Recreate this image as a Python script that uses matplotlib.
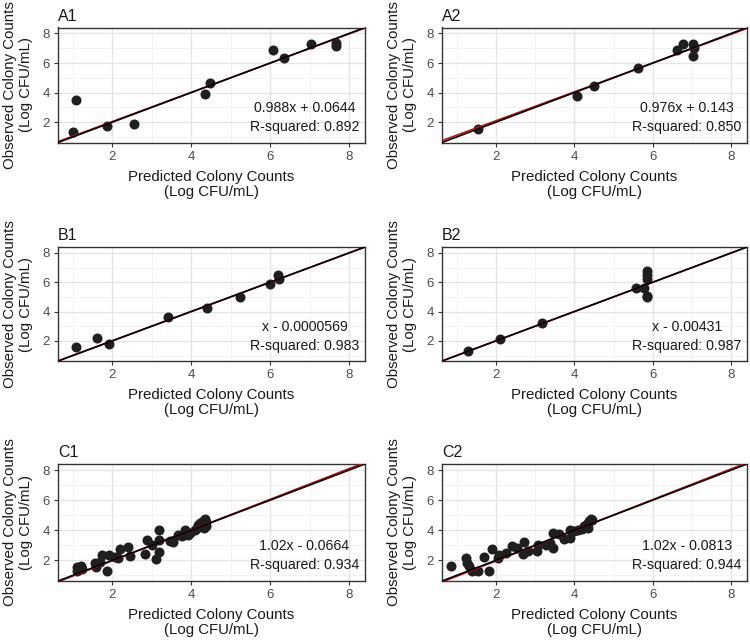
import matplotlib
matplotlib.use("Agg")
import matplotlib.pyplot as plt
import numpy as np
from matplotlib.ticker import MultipleLocator

plt.rcParams['font.family'] = ['Liberation Sans', 'DejaVu Sans']

# ---- data ----
A1_x = [1.00, 1.08, 1.87, 2.56, 4.34, 4.47, 6.08, 6.35, 7.03, 7.66, 7.66]
A1_y = [1.33, 3.52, 1.73, 1.89, 3.88, 4.68, 6.88, 6.34, 7.26, 7.32, 7.17]

A2_x = [1.54, 4.07, 4.49, 5.63, 6.61, 6.76, 7.03, 7.05, 7.02]
A2_y = [1.55, 3.79, 4.46, 5.65, 6.88, 7.28, 7.26, 6.99, 6.47]

B1_x = [1.08, 1.62, 1.91, 3.41, 4.41, 5.23, 5.99, 6.20, 6.22]
B1_y = [1.60, 2.18, 1.82, 3.61, 4.24, 5.02, 5.85, 6.47, 6.25]

B2_x = [1.28, 2.12, 3.18, 5.56, 5.77, 5.86, 5.86, 5.86, 5.84, 5.86]
B2_y = [1.31, 2.11, 3.21, 5.63, 5.63, 6.75, 6.48, 6.25, 5.04, 4.98]

C1_x = [1.10, 1.22, 1.11, 1.25, 1.56, 1.60, 1.69, 1.75, 1.87, 1.92, 2.07, 2.15,
        2.21, 2.41, 2.46, 2.83, 2.89, 3.00, 3.12, 3.19, 3.19, 3.19, 3.46, 3.55,
        3.67, 3.78, 3.85, 3.93, 3.97, 4.10, 4.14, 4.18, 4.22, 4.26, 4.31, 4.35,
        4.37, 4.32, 4.37]
C1_y = [1.58, 1.63, 1.30, 1.45, 1.80, 1.58, 1.89, 2.33, 1.30, 2.33, 2.24, 2.18,
        2.77, 2.90, 2.29, 2.40, 3.34, 2.99, 2.11, 4.00, 3.38, 2.55, 3.27, 3.21,
        3.71, 3.65, 4.04, 3.71, 3.82, 4.04, 4.15, 4.37, 4.48, 4.26, 4.59, 4.75,
        4.53, 4.15, 4.26]

C2_x = [0.87, 1.24, 1.27, 1.31, 1.39, 1.55, 1.71, 1.83, 1.90, 2.05, 2.08, 2.25,
        2.42, 2.53, 2.72, 2.70, 2.82, 3.06, 3.08, 3.29, 3.37, 3.46, 3.46, 3.62,
        3.73, 3.90, 3.90, 4.00, 4.09, 4.19, 4.26, 4.30, 4.34, 4.38, 4.42, 4.44,
        4.34]
C2_y = [1.63, 2.18, 1.85, 1.63, 1.30, 1.30, 2.24, 1.30, 2.73, 2.18, 2.33, 2.51,
        2.95, 2.84, 3.21, 2.40, 2.62, 2.62, 2.99, 3.05, 3.16, 2.84, 3.82, 3.78,
        3.43, 3.49, 4.04, 3.93, 4.04, 4.09, 4.26, 4.37, 4.48, 4.59, 4.75, 4.66,
        4.15]

panels = ["A1", "A2", "B1", "B2", "C1", "C2"]
xs = [A1_x, A2_x, B1_x, B2_x, C1_x, C2_x]
ys = [A1_y, A2_y, B1_y, B2_y, C1_y, C2_y]
slopes = [0.988, 0.976, 1.0, 1.0, 1.02, 1.02]
intercepts = [0.0644, 0.143, -0.0000569, -0.00431, -0.0664, -0.0813]
eq_labels = ["0.988x + 0.0644", "0.976x + 0.143", "x - 0.0000569",
             "x - 0.00431", "1.02x - 0.0664", "1.02x - 0.0813"]
r2_labels = ["R-squared: 0.892", "R-squared: 0.850", "R-squared: 0.983",
             "R-squared: 0.987", "R-squared: 0.934", "R-squared: 0.944"]

W, H = 750, 642
fig = plt.figure(figsize=(W / 100, H / 100), dpi=100)

col_lr = [(58, 365), (442, 747)]
row_tb = [(27.5, 142.5), (247, 361), (464, 581)]

lim = (0.63, 8.4)
for i, name in enumerate(panels):
    r, c = divmod(i, 2)
    l, rr = col_lr[c]
    t, b = row_tb[r]
    ax = fig.add_axes([l / W, 1 - b / H, (rr - l) / W, (b - t) / H])
    ax.set_xlim(*lim)
    ax.set_ylim(*lim)
    ax.xaxis.set_major_locator(MultipleLocator(2))
    ax.yaxis.set_major_locator(MultipleLocator(2))
    ax.xaxis.set_minor_locator(MultipleLocator(1))
    ax.yaxis.set_minor_locator(MultipleLocator(1))
    ax.grid(which='major', color='#E5E5E5', linewidth=1.0, zorder=0)
    ax.grid(which='minor', color='#F0F0F0', linewidth=0.6, zorder=0)
    ax.set_axisbelow(True)
    for s in ax.spines.values():
        s.set_color('#333333')
        s.set_linewidth(1.0)
    ax.tick_params(which='major', length=3, width=0.8, color='#333333',
                   labelsize=9.5, labelcolor='#4D4D4D', pad=3)
    ax.tick_params(which='minor', length=0)

    ax.scatter(xs[i], ys[i], s=52, color='#1F1F1F', zorder=2, linewidths=0)
    xx = np.array(lim)
    ax.plot(xx, slopes[i] * xx + intercepts[i], color='#CC1111', linewidth=1.2, zorder=3)
    ax.plot(xx, xx, color='black', linewidth=1.2, zorder=4)

    ax.text(6.87, 2.33, eq_labels[i] + "\n" + r2_labels[i], ha='center', va='center',
            fontsize=10.2, color='#1A1A1A', linespacing=1.45, zorder=5)

    ax.set_title(name, loc='left', fontsize=11.5, pad=5, color='#1A1A1A')
    ax.set_xlabel("Predicted Colony Counts\n(Log CFU/mL)", fontsize=10.8,
                  color='#1A1A1A', labelpad=5, linespacing=1.1)
    ax.set_ylabel("Observed Colony Counts\n(Log CFU/mL)", fontsize=10.8,
                  color='#1A1A1A', labelpad=7, linespacing=1.1)

fig.savefig("out.png", dpi=100)
